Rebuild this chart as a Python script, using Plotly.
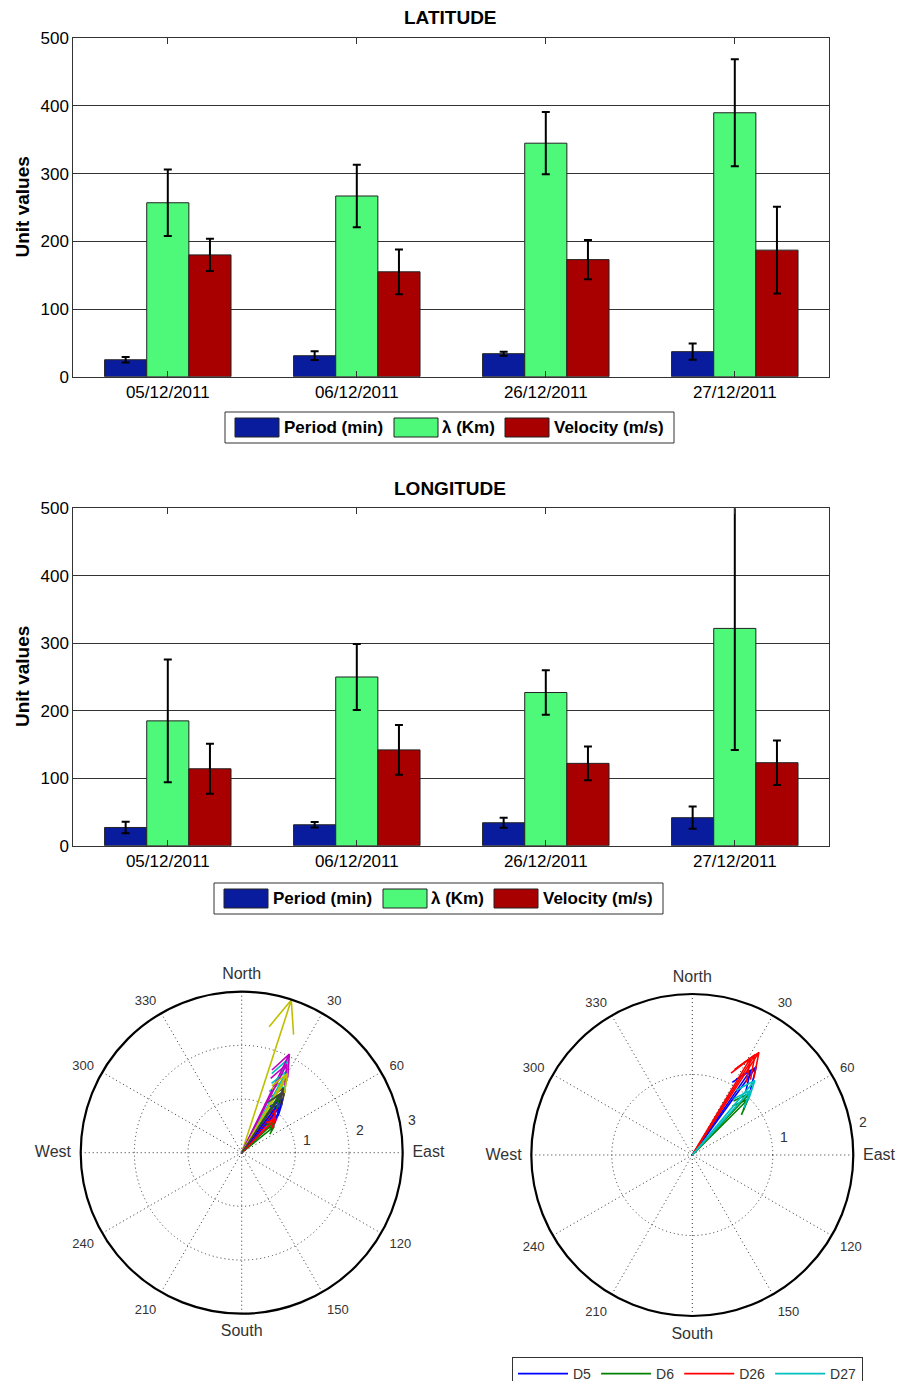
import numpy as np
import plotly.graph_objects as go

W, H = 902, 1381

# ---------------- data ----------------
dates = ["05/12/2011", "06/12/2011", "26/12/2011", "27/12/2011"]
series_names = ["Period (min)", "λ (Km)", "Velocity (m/s)"]

lat_period = [25, 31, 34, 37]
lat_period_err = [4, 6.5, 3, 12]
lat_lambda = [257, 267, 345, 390]
lat_lambda_err = [49, 46, 46, 79]
lat_velocity = [180, 155, 173, 187]
lat_velocity_err = [24, 33, 29, 64]

lon_period = [27, 31, 34, 41.5]
lon_period_err = [8.6, 4, 7.4, 16.5]
lon_lambda = [185, 250, 227, 322]
lon_lambda_err = [91, 49, 33, 180]
lon_velocity = [114, 142, 122, 123]
lon_velocity_err = [37, 37, 25, 33]

y_ticks = [0, 100, 200, 300, 400, 500]

# propagation vectors (magnitude, bearing in degrees from North)
all_mag = [1.20, 0.78, 0.95, 1.55, 0.96, 2.99, 1.47,
           1.10, 0.85, 1.05, 1.96, 2.04, 1.63, 1.40,
           1.25, 1.30, 0.90, 1.75, 1.85, 1.70, 1.35]
all_bearing = [39, 51, 42, 30, 44.5, 18, 33.5,
               40, 47, 38, 26.5, 25.8, 31, 35,
               37, 33, 45, 29, 27, 30, 34]

day_names = ["D5", "D6", "D26", "D27"]
day_mag = [[1.35, 1.28], [1.05, 0.98], [1.52, 1.47, 1.40], [1.21, 1.08]]
day_bearing = [[36, 34.5], [43, 45], [33, 32, 31], [40, 42]]

compass_vals = list(range(0, 360, 30))
compass_text = ["North", "30", "60", "East", "120", "150",
                "South", "210", "240", "West", "300", "330"]

# ---------------- styling ----------------
FONT = "Arial, Liberation Sans, sans-serif"
bar_colors = ["#0a1c9e", "#4ef97a", "#a80000"]
cycle_colors = ["#0000ff", "#008000", "#ff0000", "#00bfbf",
                "#bf00bf", "#bfbf00", "#404040"]
day_colors = ["#0000ff", "#008000", "#ff0000", "#00bfbf"]


def fx(px):
    return px / W


def fy(py):
    return 1 - py / H


def arrow_polar(mag, bearing):
    # shaft plus two barbs, as in a compass plot
    a = np.array([0, 1, 0.8, 1, 0.8])
    b = np.array([0, 0, 0.08, 0, -0.08])
    r = mag * np.hypot(a, b)
    th = bearing + np.degrees(np.arctan2(b, a))
    return list(r), list(th)


fig = go.Figure()

# ---------------- bar charts ----------------
x_idx = [1, 2, 3, 4]
panels = [
    ("x", "y", [(lat_period, lat_period_err), (lat_lambda, lat_lambda_err),
                (lat_velocity, lat_velocity_err)]),
    ("x2", "y2", [(lon_period, lon_period_err), (lon_lambda, lon_lambda_err),
                  (lon_velocity, lon_velocity_err)]),
]
for xa, ya, series in panels:
    for (vals, errs), name, col in zip(series, series_names, bar_colors):
        fig.add_trace(go.Bar(
            x=x_idx, y=vals, name=name, xaxis=xa, yaxis=ya,
            marker=dict(color=col, line=dict(color="#222", width=1)),
            error_y=dict(type="data", array=errs, color="black",
                         thickness=2, width=4),
            showlegend=False, hoverinfo="skip",
        ))

axis_common_x = dict(
    range=[0.5, 4.5], tickmode="array", tickvals=x_idx, ticktext=dates,
    showline=True, linecolor="#333", linewidth=1, mirror="ticks",
    ticks="inside", ticklen=6, tickcolor="#333", showgrid=False,
    zeroline=False, automargin=False,
    tickfont=dict(family=FONT, size=17, color="black"),
)
axis_common_y = dict(
    range=[0, 500], tickmode="array", tickvals=y_ticks,
    showline=True, linecolor="#333", linewidth=1, mirror=True,
    ticks="", showgrid=True, gridcolor="#333", gridwidth=1,
    zeroline=False, automargin=False,
    tickfont=dict(family=FONT, size=17, color="black"),
)

top_y = (38.3, 376.7)
bot_y = (508.3, 845.7)
plot_x = (73.3, 829.3)

fig.update_layout(
    xaxis=dict(axis_common_x, domain=[fx(plot_x[0]), fx(plot_x[1])], anchor="y"),
    yaxis=dict(axis_common_y, domain=[fy(top_y[1]), fy(top_y[0])], anchor="x"),
    xaxis2=dict(axis_common_x, domain=[fx(plot_x[0]), fx(plot_x[1])], anchor="y2"),
    yaxis2=dict(axis_common_y, domain=[fy(bot_y[1]), fy(bot_y[0])], anchor="x2"),
    barmode="group", bargap=0.331, bargroupgap=0,
)

annotations = []
shapes = []
for title, ty, (y0, y1) in [("LATITUDE", 17, top_y), ("LONGITUDE", 488, bot_y)]:
    annotations.append(dict(
        text="<b>%s</b>" % title, x=fx(450), y=fy(ty), xref="paper", yref="paper",
        showarrow=False, font=dict(family=FONT, size=19, color="black"),
        xanchor="center", yanchor="middle"))
    annotations.append(dict(
        text="<b>Unit values</b>", x=fx(22), y=fy((y0 + y1) / 2),
        xref="paper", yref="paper", showarrow=False, textangle=-90,
        font=dict(family=FONT, size=19, color="black"),
        xanchor="center", yanchor="middle"))

# boxed legends under each bar chart
swatch_off = [10, 169, 280]
text_off = [57, 215, 327]
for left, top in [(225, 412), (214, 883)]:
    shapes.append(dict(type="rect", xref="paper", yref="paper",
                       x0=fx(left), x1=fx(left + 449), y0=fy(top + 31), y1=fy(top),
                       line=dict(color="#333", width=1), fillcolor="white"))
    for so, to, name, col in zip(swatch_off, text_off, series_names, bar_colors):
        shapes.append(dict(type="rect", xref="paper", yref="paper",
                           x0=fx(left + so), x1=fx(left + so + 44),
                           y0=fy(top + 25), y1=fy(top + 6),
                           line=dict(color="#222", width=1), fillcolor=col))
        annotations.append(dict(
            text="<b>%s</b>" % name, x=fx(left + to), y=fy(top + 15.5),
            xref="paper", yref="paper", showarrow=False,
            font=dict(family=FONT, size=17, color="black"),
            xanchor="left", yanchor="middle"))

# ---------------- compass plots ----------------
POLAR_R = 161
polar_specs = [("polar", 241.7, 1152.7, 3), ("polar2", 692.3, 1155, 2)]


def add_radial_labels(cx, cy, rmax):
    # ring labels just outside each ring, slightly north of East
    unit = POLAR_R / rmax
    bearing = np.radians(79)
    for t in range(1, rmax + 1):
        rp = (t + 0.08 * rmax) * unit
        annotations.append(dict(
            text=str(t), x=fx(cx + rp * np.sin(bearing)),
            y=fy(cy - rp * np.cos(bearing)), xref="paper", yref="paper",
            showarrow=False, font=dict(family=FONT, size=14, color="#333"),
            xanchor="center", yanchor="middle"))


for i, (m, b) in enumerate(zip(all_mag, all_bearing)):
    r, th = arrow_polar(m, b)
    fig.add_trace(go.Scatterpolar(
        r=r, theta=th, mode="lines", subplot="polar",
        line=dict(color=cycle_colors[i % len(cycle_colors)], width=1.6),
        showlegend=False, hoverinfo="skip"))

for name, mags, bears, col in zip(day_names, day_mag, day_bearing, day_colors):
    rr, tt = [], []
    for m, b in zip(mags, bears):
        r, th = arrow_polar(m, b)
        rr += r + [None]
        tt += th + [None]
    fig.add_trace(go.Scatterpolar(
        r=rr, theta=tt, mode="lines", subplot="polar2", name=name,
        line=dict(color=col, width=1.6), hoverinfo="skip", showlegend=True))

compass_ticktext = [
    '<span style="font-size:16px">%s</span>' % t if not t.isdigit() else t
    for t in compass_text
]


def polar_layout(cx, cy, rmax):
    R = POLAR_R
    return dict(
        domain=dict(x=[fx(cx - R), fx(cx + R)], y=[fy(cy + R), fy(cy - R)]),
        bgcolor="white",
        angularaxis=dict(
            rotation=90, direction="clockwise", tickmode="array",
            tickvals=compass_vals, ticktext=compass_ticktext,
            showline=True, linecolor="black", linewidth=2.2,
            showgrid=True, gridcolor="#333", gridwidth=1, griddash="1px,3px",
            ticks="outside", ticklen=6, tickcolor="rgba(0,0,0,0)",
            tickfont=dict(family=FONT, size=13, color="#333")),
        radialaxis=dict(
            range=[0, rmax], tickmode="array", tickvals=list(range(1, rmax + 1)),
            showticklabels=False, showline=False, ticks="",
            showgrid=True, gridcolor="#333", gridwidth=1, griddash="1px,3px"),
    )


layout_polars = {}
for name, cx, cy, rmax in polar_specs:
    layout_polars[name] = polar_layout(cx, cy, rmax)
    add_radial_labels(cx, cy, rmax)

fig.update_layout(
    template="none",
    **layout_polars,
    legend=dict(
        orientation="h", x=fx(512), y=fy(1357), xanchor="left", yanchor="top",
        bordercolor="#333", borderwidth=1, bgcolor="white",
        font=dict(family=FONT, size=14, color="#333"),
        itemwidth=50, tracegroupgap=0),
    annotations=annotations,
    shapes=shapes,
    width=W, height=H,
    margin=dict(l=0, r=0, t=0, b=0, autoexpand=False),
    paper_bgcolor="white", plot_bgcolor="white",
    font=dict(family=FONT),
    hovermode=False,
)

fig.write_html("out.html")
